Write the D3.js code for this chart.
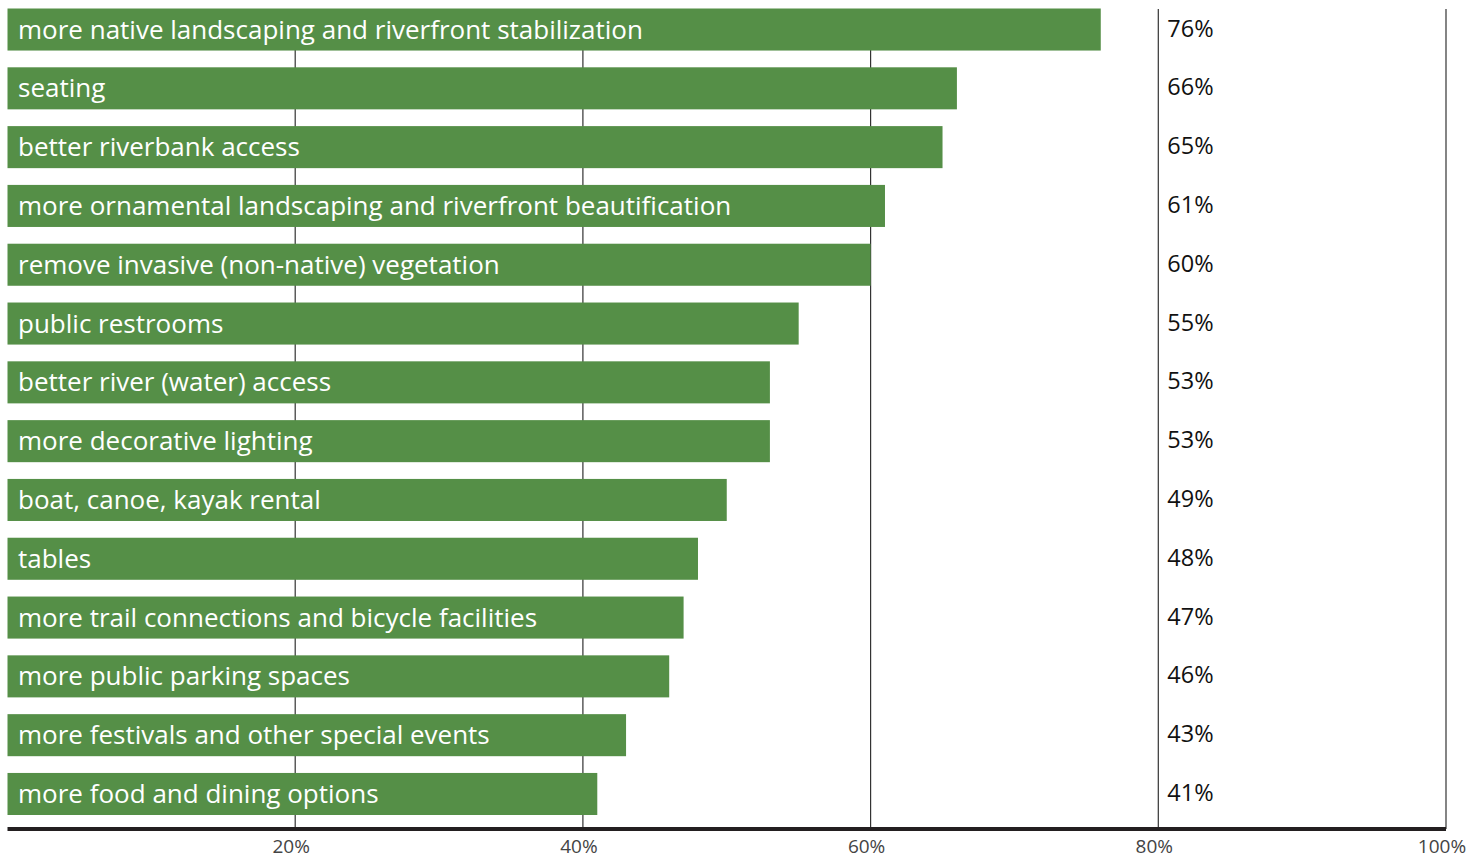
<!DOCTYPE html>
<html><head><meta charset="utf-8">
<script src="https://cdn.jsdelivr.net/npm/d3@7"></script>
<style>body{margin:0;background:#fff;} svg{display:block;}</style>
</head><body>
<svg id="chart" width="1484" height="859"></svg>
<script>
const categories = [
  "more native landscaping and riverfront stabilization",
  "seating",
  "better riverbank access",
  "more ornamental landscaping and riverfront beautification",
  "remove invasive (non-native) vegetation",
  "public restrooms",
  "better river (water) access",
  "more decorative lighting",
  "boat, canoe, kayak rental",
  "tables",
  "more trail connections and bicycle facilities",
  "more public parking spaces",
  "more festivals and other special events",
  "more food and dining options"
];
const barValues = [76, 66, 65, 61, 60, 55, 53, 53, 50, 48, 47, 46, 43, 41];
const valueLabels = ["76%", "66%", "65%", "61%", "60%", "55%", "53%", "53%", "49%", "48%", "47%", "46%", "43%", "41%"];
const tickValues = [20, 40, 60, 80, 100];
const tickLabels = ["20%", "40%", "60%", "80%", "100%"];

const svg = d3.select("#chart");
const x = d3.scaleLinear().domain([0, 100]).range([7.5, 1446]);
const y = d3.scaleBand().domain(categories).range([8.5, 815]).paddingInner(0.285).paddingOuter(0);
const axisY = 829;
const green = "#558f47";

// gridlines
svg.append("g").selectAll("line").data(tickValues).join("line")
  .attr("x1", d => x(d)).attr("x2", d => x(d))
  .attr("y1", 9).attr("y2", axisY)
  .attr("stroke", "#333").attr("stroke-width", 1.2);

// bars
svg.append("g").selectAll("rect").data(categories).join("rect")
  .attr("x", x(0)).attr("y", d => y(d))
  .attr("width", (d, i) => x(barValues[i]) - x(0))
  .attr("height", y.bandwidth())
  .attr("fill", green);

// category labels
svg.append("g").selectAll("text").data(categories).join("text")
  .attr("x", 18).attr("y", d => y(d) + y.bandwidth() / 2 + 9)
  .attr("fill", "#fff")
  .style("font-family", "'Open Sans', sans-serif").style("font-size", "26px")
  .text(d => d);

// value labels
svg.append("g").selectAll("text").data(categories).join("text")
  .attr("x", x(80) + 9).attr("y", d => y(d) + y.bandwidth() / 2 + 7)
  .attr("fill", "#111")
  .style("font-family", "'Open Sans', sans-serif").style("font-size", "23.5px")
  .text((d, i) => valueLabels[i]);

// axis baseline
svg.append("line").attr("x1", x(0)).attr("x2", x(100)).attr("y1", axisY).attr("y2", axisY)
  .attr("stroke", "#231f20").attr("stroke-width", 4);

// tick labels
svg.append("g").selectAll("text").data(tickValues).join("text")
  .attr("x", d => x(d) - 4).attr("y", 853)
  .attr("text-anchor", "middle").attr("fill", "#444")
  .style("font-family", "'Open Sans', sans-serif").style("font-size", "19px")
  .text((d, i) => tickLabels[i]);
</script>
</body></html>
